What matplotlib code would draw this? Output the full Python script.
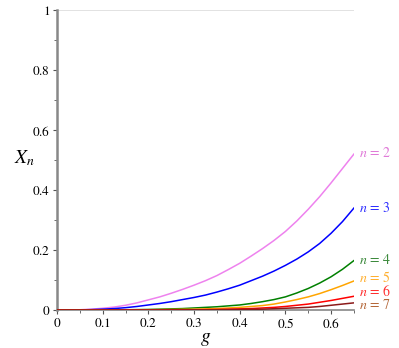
import numpy as np
import matplotlib.pyplot as plt
from matplotlib.ticker import MultipleLocator

plt.rcParams['font.family'] = ['Liberation Serif', 'DejaVu Serif']
plt.rcParams['mathtext.fontset'] = 'stix'

# values
g = [0, 0.025, 0.05, 0.075, 0.1, 0.125, 0.15, 0.175, 0.2, 0.225, 0.25, 0.275, 0.3, 0.325,
     0.35, 0.375, 0.4, 0.425, 0.45, 0.475, 0.5, 0.525, 0.55, 0.575, 0.6, 0.625, 0.65]
x2 = [0, 0.0002, 0.001, 0.003, 0.006, 0.010, 0.016, 0.024, 0.034, 0.044, 0.056, 0.069, 0.083, 0.098,
      0.115, 0.135, 0.156, 0.18, 0.205, 0.232, 0.262, 0.297, 0.336, 0.378, 0.424, 0.472, 0.52]
x3 = [0, 0, 0.0005, 0.0015, 0.003, 0.005, 0.008, 0.012, 0.017, 0.022, 0.028, 0.035, 0.042, 0.05,
      0.06, 0.071, 0.083, 0.098, 0.113, 0.13, 0.149, 0.17, 0.194, 0.222, 0.256, 0.295, 0.34]
x4 = [0, 0, 0, 0, 0.0004, 0.0007, 0.001, 0.0015, 0.002, 0.003, 0.004, 0.005, 0.007, 0.009,
      0.011, 0.014, 0.017, 0.022, 0.028, 0.035, 0.044, 0.057, 0.072, 0.09, 0.111, 0.136, 0.165]
x5 = [0, 0, 0, 0, 0, 0, 0.0003, 0.0005, 0.001, 0.0015, 0.002, 0.0025, 0.003, 0.004,
      0.005, 0.007, 0.009, 0.012, 0.015, 0.02, 0.027, 0.035, 0.044, 0.055, 0.068, 0.082, 0.097]
x6 = [0, 0, 0, 0, 0, 0, 0, 0, 0, 0, 0.0005, 0.0007, 0.001, 0.0015,
      0.002, 0.003, 0.004, 0.005, 0.007, 0.009, 0.012, 0.016, 0.02, 0.026, 0.032, 0.039, 0.046]
x7 = [0, 0, 0, 0, 0, 0, 0, 0, 0, 0, 0, 0, 0.0005, 0.0007,
      0.001, 0.0015, 0.002, 0.0025, 0.003, 0.0045, 0.006, 0.0075, 0.009, 0.012, 0.016, 0.02, 0.024]

series = [x2, x3, x4, x5, x6, x7]
names = [r'$n\,=\,2$', r'$n\,=\,3$', r'$n\,=\,4$', r'$n\,=\,5$', r'$n\,=\,6$', r'$n\,=\,7$']
label_y = [0.523, 0.34, 0.167, 0.108, 0.062, 0.017]
line_colors = ['#ee82ee', '#0000ff', '#008000', '#ffa500', '#ff0000', '#8b1a1a']
text_colors = ['#e07ad8', '#3030ff', '#3d8a3d', '#ffb030', '#ff3030', '#b5683a']

fig = plt.figure(figsize=(3.99, 3.48), dpi=100)
ax = fig.add_axes([0.143, 0.109, 0.744, 0.862])

for ys, c in zip(series, line_colors):
    ax.plot(g, ys, color=c, lw=1.1, zorder=3)

for name, ly, c in zip(names, label_y, text_colors):
    ax.text(0.662, ly, name, color=c, fontsize=10, va='center', ha='left',
            clip_on=False)

ax.axhline(1, color='#dddddd', lw=1.2, zorder=1)

ax.set_xlim(0, 0.65)
ax.set_ylim(0, 1)
ax.xaxis.set_major_locator(MultipleLocator(0.1))
ax.xaxis.set_minor_locator(MultipleLocator(0.05))
ax.yaxis.set_major_locator(MultipleLocator(0.2))
ax.yaxis.set_minor_locator(MultipleLocator(0.1))
fmt = plt.FuncFormatter(lambda v, p: '$0$' if v == 0 else ('$%g$' % round(v, 2)))
ax.xaxis.set_major_formatter(fmt)
ax.yaxis.set_major_formatter(fmt)

for s in ['top', 'right']:
    ax.spines[s].set_visible(False)
ax.spines['left'].set_color('#888888')
ax.spines['left'].set_linewidth(1.8)
ax.spines['bottom'].set_color('#888888')
ax.spines['bottom'].set_linewidth(1.2)

ax.tick_params(which='major', length=3, width=0.8, color='#555555', labelsize=9.5, pad=2)
ax.tick_params(which='minor', length=2, width=0.6, color='#555555')

ax.set_xlabel('$g$', fontsize=14, labelpad=0)
ax.set_ylabel('$X_n$', fontsize=14, rotation=0, va='center')
ax.yaxis.set_label_coords(-0.11, 0.505)

fig.savefig('out.png', dpi=100)
